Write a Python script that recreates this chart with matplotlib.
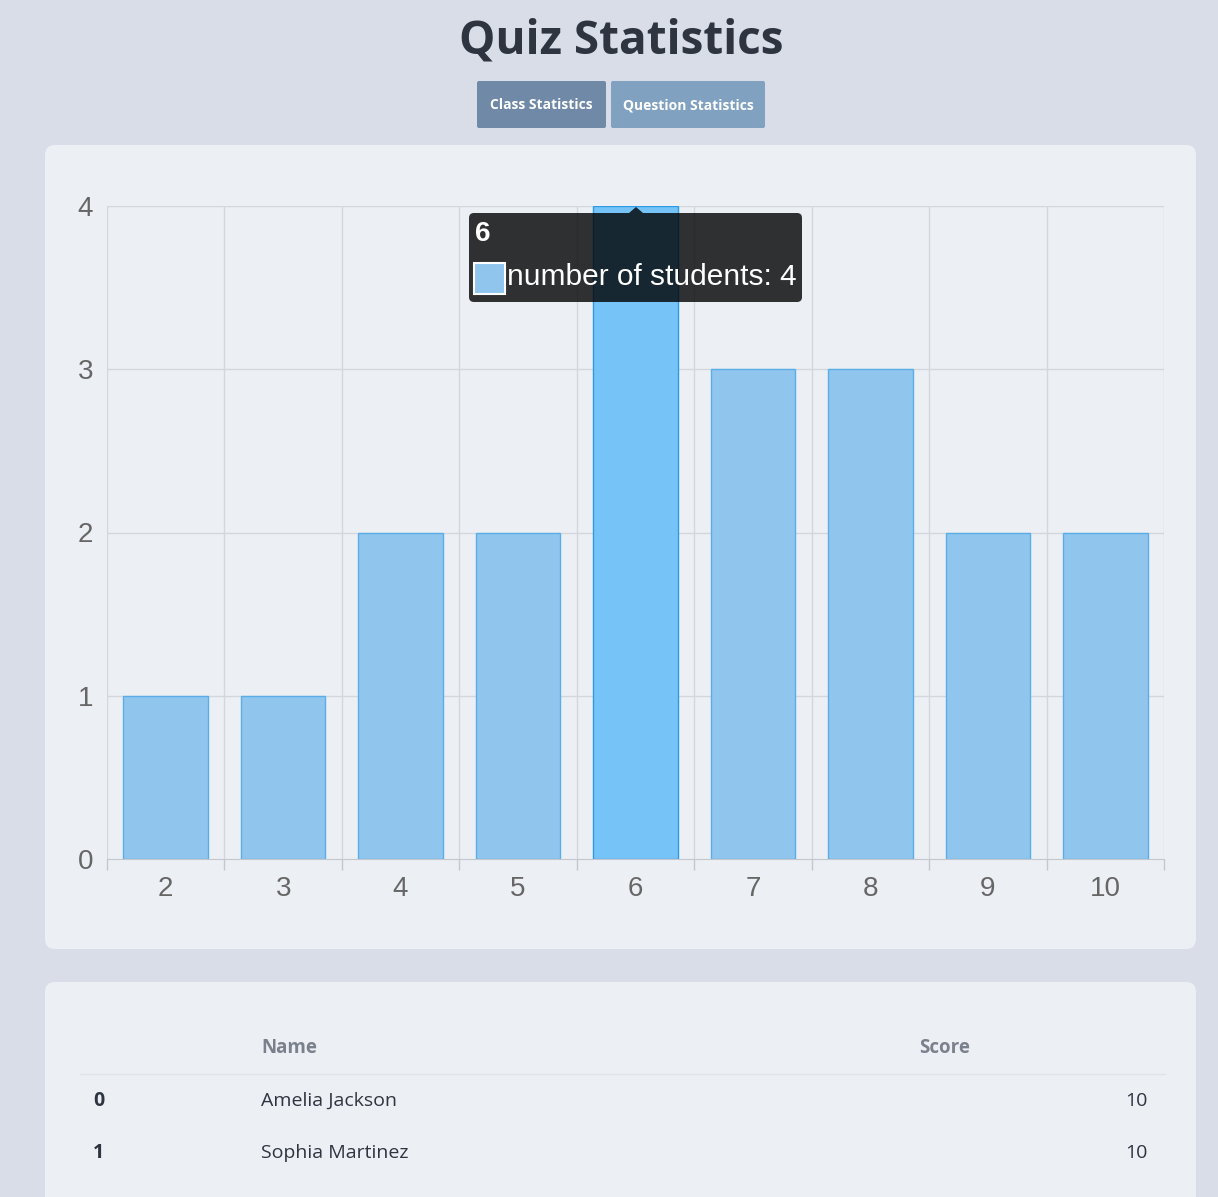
import matplotlib
matplotlib.use("Agg")
import matplotlib.pyplot as plt
from matplotlib.patches import FancyBboxPatch, Rectangle
import numpy as np

# data
scores = ["2", "3", "4", "5", "6", "7", "8", "9", "10"]
students = [1, 1, 2, 2, 4, 3, 3, 2, 2]
hover_idx = 4
table_idx = ["0", "1"]
table_names = ["Amelia Jackson", "Sophia Martinez"]
table_scores = ["10", "10"]
buttons = ["Class Statistics", "Question Statistics"]

W, H = 1218, 1197
bg = "#d8dde8"
panel = "#eceff4"
dark = "#2e3440"

fig = plt.figure(figsize=(W / 100, H / 100), dpi=100)
fig.patch.set_facecolor(bg)

# background layer in pixel coords
base = fig.add_axes([0, 0, 1, 1], zorder=0)
base.set_xlim(0, W)
base.set_ylim(H, 0)
base.axis("off")

def rbox(ax, x0, y0, x1, y1, color, r=8, **kw):
    p = FancyBboxPatch((x0 + r, y0 + r), x1 - x0 - 2 * r, y1 - y0 - 2 * r,
                       boxstyle=f"round,pad={r}", facecolor=color,
                       edgecolor="none", **kw)
    ax.add_patch(p)
    return p

rbox(base, 45, 145, 1196, 949, panel, r=10)
rbox(base, 45, 982, 1196, 1240, panel, r=10)

base.text(621, 41, "Quiz Statistics", ha="center", va="center",
          fontsize=33, fontweight="bold", color=dark, family="Open Sans")

btn_x = [(477, 606), (611, 765)]
btn_col = ["#7089a6", "#81a1c1"]
for (x0, x1), c, lab in zip(btn_x, btn_col, buttons):
    rbox(base, x0, 81, x1, 128, c, r=2)
    base.text((x0 + x1) / 2, 105, lab, ha="center", va="center",
              fontsize=10, fontweight="bold", color="white", family="Open Sans")

# table
hdr_col = "#7b818c"
base.text(261, 1048, "Name", ha="left", va="center", fontsize=13.5,
          fontweight="bold", color=hdr_col, family="Open Sans")
base.text(919, 1048, "Score", ha="left", va="center", fontsize=13.5,
          fontweight="bold", color=hdr_col, family="Open Sans")
base.plot([80, 1165], [1074, 1074], color="#e0e3e9", lw=1)
for i, (idx, nm, sc) in enumerate(zip(table_idx, table_names, table_scores)):
    y = 1101 + i * 52
    base.text(93, y, idx, ha="left", va="center", fontsize=14,
              fontweight="bold", color=dark, family="Open Sans")
    base.text(261, y, nm, ha="left", va="center", fontsize=14,
              color=dark, family="Open Sans")
    base.text(1148, y, sc, ha="right", va="center", fontsize=14,
              color=dark, family="Open Sans")

# chart
ax = fig.add_axes([107 / W, 1 - 859 / H, (1164 - 107) / W, (859 - 206) / H], zorder=2)
ax.set_facecolor("none")
x = np.arange(len(scores))
fills = ["#90c6ee"] * len(scores)
edges = ["#5aaee8"] * len(scores)
fills[hover_idx] = "#76c3f7"
edges[hover_idx] = "#2f9be6"
ax.bar(x, students, width=0.72, color=fills, edgecolor=edges, linewidth=1, zorder=2)
ax.set_xlim(-0.5, len(scores) - 0.5)
ax.set_ylim(0, 4)
ax.set_yticks(range(0, 5))
ax.set_xticks(x)
ax.set_xticklabels(scores)
ax.set_xticks(np.arange(-0.5, len(scores)), minor=True)
ax.grid(False)
for v in range(1, 5):
    ax.axhline(v, color="#d3d6dc", lw=1, zorder=1)
for b in np.arange(-0.5, len(scores)):
    ax.axvline(b, color="#d3d6dc", lw=1, zorder=1)
for s in ["top", "right", "left"]:
    ax.spines[s].set_visible(False)
ax.spines["bottom"].set_color("#c4c7cd")
ax.tick_params(axis="x", which="major", length=0, pad=12, labelsize=20, labelcolor="#666666")
ax.tick_params(axis="x", which="minor", length=8, color="#c4c7cd", width=1)
ax.tick_params(axis="y", length=0, pad=10, labelsize=20, labelcolor="#666666")
for t in ax.get_xticklabels() + ax.get_yticklabels():
    t.set_family("Liberation Sans")

# tooltip overlay
top = fig.add_axes([0, 0, 1, 1], zorder=5)
top.set_xlim(0, W)
top.set_ylim(H, 0)
top.axis("off")
rbox(top, 469, 213, 802, 302, (0, 0, 0, 0.8), r=5)
top.fill([629, 636, 643], [213, 207, 213], color=(0, 0, 0, 0.8), lw=0)
top.text(475, 234, scores[hover_idx], ha="left", va="center", fontsize=20,
         fontweight="bold", color="white", family="Liberation Sans")
top.add_patch(Rectangle((474, 263), 31, 31, facecolor="#90c6ee",
                        edgecolor="white", lw=1.5))
top.text(507, 277, f"number of students: {students[hover_idx]}", ha="left",
         va="center", fontsize=21.5, color="white", family="Liberation Sans")

fig.savefig("out.png", dpi=100, facecolor=bg)
